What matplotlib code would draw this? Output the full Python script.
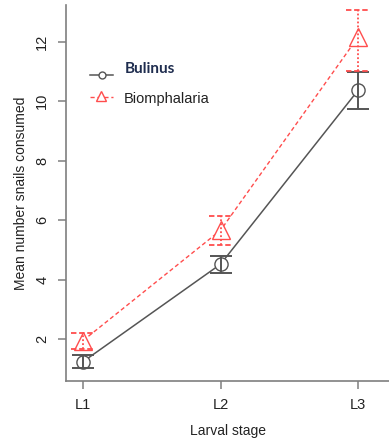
import numpy as np
import matplotlib.pyplot as plt

# mean snails consumed per larval stage, with error bar limits
stages = ['L1', 'L2', 'L3']
bulinus_mean = [1.24, 4.52, 10.37]
bulinus_lo = [1.03, 4.21, 9.73]
bulinus_hi = [1.45, 4.81, 11.0]
biomph_mean = [1.95, 5.66, 12.16]
biomph_lo = [1.65, 5.16, 11.02]
biomph_hi = [2.22, 6.13, 13.06]

grey = '#555555'
red = '#ff4d4d'
x = np.arange(1, len(stages) + 1)

fig = plt.figure(figsize=(3.89, 4.41), dpi=100)
ax = fig.add_axes([66/389, 60/441, 323/389, 376/441])

# Bulinus: solid grey line, open circles
ax.plot(x, bulinus_mean, '-', color=grey, lw=1.1, zorder=2)
ax.plot(x, bulinus_mean, 'o', ms=9.5, mfc='white', mec=grey, mew=1.0, zorder=3)
yerr = [np.subtract(bulinus_mean, bulinus_lo), np.subtract(bulinus_hi, bulinus_mean)]
ax.errorbar(x, bulinus_mean, yerr=yerr, fmt='none', ecolor=grey,
            elinewidth=1.4, capsize=8, capthick=1.4, zorder=4)

# Biomphalaria: dashed red line, open triangles, dotted error bars
ax.plot(x, biomph_mean, '--', color=red, lw=1.0, dashes=(3, 2), zorder=2)
ax.plot(x, biomph_mean, '^', ms=12.5, mfc='white', mec=red, mew=1.0, zorder=3)
yerr = [np.subtract(biomph_mean, biomph_lo), np.subtract(biomph_hi, biomph_mean)]
eb = ax.errorbar(x, biomph_mean, yerr=yerr, fmt='none', ecolor=red,
                 elinewidth=1.3, capsize=0, zorder=4)
eb[2][0].set_linestyle((0, (1, 1.2)))
# dashed caps
for xi, lo, hi in zip(x, biomph_lo, biomph_hi):
    for yv in (lo, hi):
        ax.plot([xi - 0.085, xi + 0.085], [yv, yv], color=red, lw=1.3,
                dashes=(3, 1.5), zorder=4)

ax.set_xlim(0.876, 3.225)
ax.set_ylim(0.59, 13.24)
ax.set_xticks(x)
ax.set_xticklabels(stages)
ax.set_yticks([2, 4, 6, 8, 10, 12])
for lab in ax.get_yticklabels():
    lab.set_rotation(90)
    lab.set_va('center')

ax.spines['top'].set_visible(False)
ax.spines['right'].set_visible(False)
for s in ('left', 'bottom'):
    ax.spines[s].set_color('#7f7f7f')
    ax.spines[s].set_linewidth(1.2)
ax.tick_params(length=6, width=1.1, color='#7f7f7f', pad=6,
               labelsize=10.5, labelcolor='#222222')
for lab in ax.get_xticklabels() + ax.get_yticklabels():
    lab.set_family('Liberation Sans')

ax.set_xlabel('Larval stage', fontsize=10, family='Liberation Sans',
              color='#222222', labelpad=9)
ax.set_ylabel('Mean number snails consumed', fontsize=10,
              family='Liberation Sans', color='#222222', labelpad=5)

# legend drawn by hand in axes coordinates
tr = ax.transAxes
ax.plot([0.074, 0.146], [0.814, 0.814], color=grey, lw=1.1, transform=tr,
        clip_on=False)
ax.plot([0.111], [0.814], 'o', ms=5, mfc='white', mec=grey, mew=1.0,
        transform=tr, clip_on=False)
ax.plot([0.074, 0.146], [0.755, 0.755], color=red, lw=1.0, dashes=(3, 2),
        transform=tr, clip_on=False)
ax.plot([0.108], [0.757], '^', ms=6.5, mfc='white', mec=red, mew=1.0,
        transform=tr, clip_on=False)
ax.text(0.183, 0.830, 'Bulinus', transform=tr, va='center', ha='left',
        family='Lato', fontweight='bold', fontsize=11, color='#1f2d4f')
ax.text(0.180, 0.750, 'Biomphalaria', transform=tr, va='center', ha='left',
        family='Liberation Sans', fontsize=10.5, color='#222222')

fig.savefig('out.png', dpi=100)
